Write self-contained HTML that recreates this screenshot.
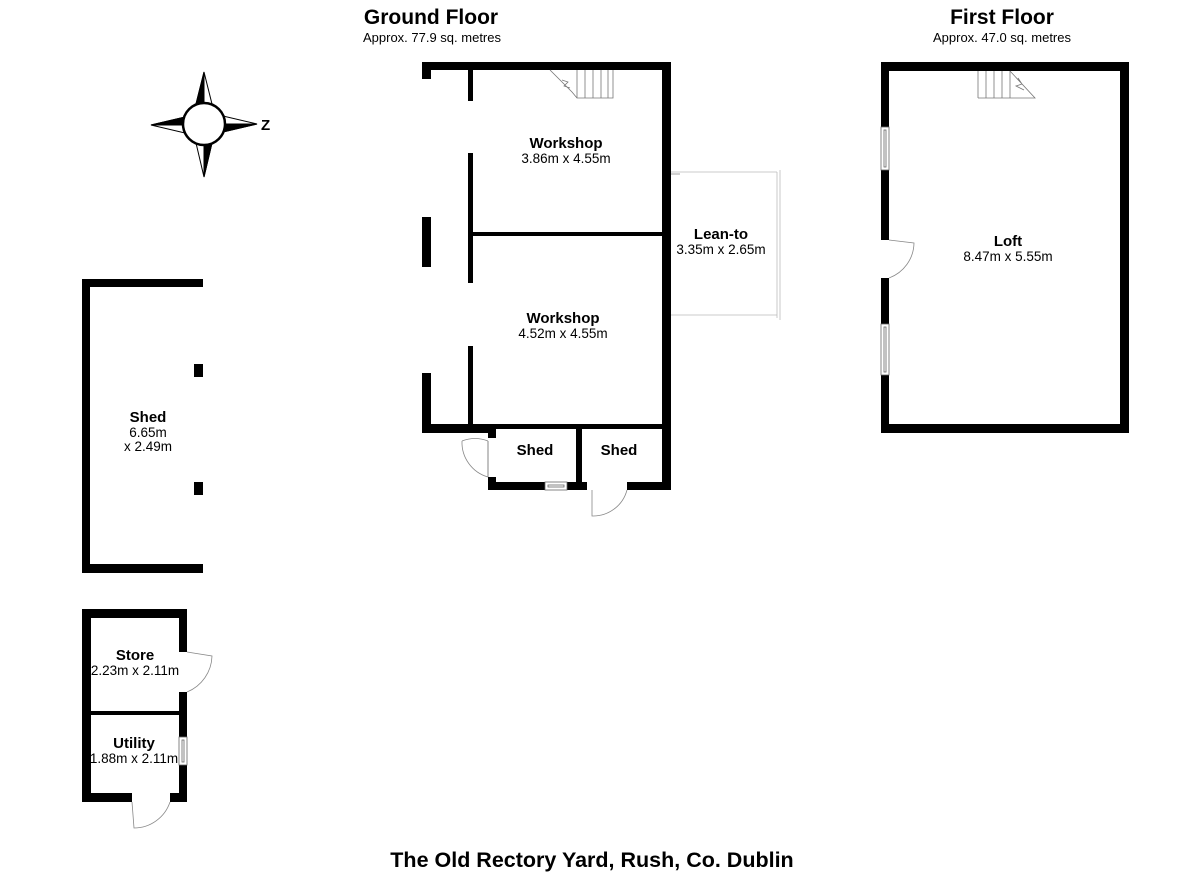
<!DOCTYPE html>
<html><head><meta charset="utf-8"><style>
html,body{margin:0;padding:0;background:#fff;}
svg{display:block;font-family:"Liberation Sans",Arial,sans-serif;}
.b{font-weight:bold;font-size:15px;}
.s{font-size:13.5px;}
</style></head><body>
<svg width="1200" height="873" viewBox="0 0 1200 873" xmlns="http://www.w3.org/2000/svg">
<rect width="1200" height="873" fill="#fff"/>
<!-- Titles -->
<text x="431" y="24" text-anchor="middle" font-weight="bold" font-size="21">Ground Floor</text>
<text x="432" y="42" text-anchor="middle" font-size="13">Approx. 77.9 sq. metres</text>
<text x="1002" y="24" text-anchor="middle" font-weight="bold" font-size="21">First Floor</text>
<text x="1002" y="42" text-anchor="middle" font-size="13">Approx. 47.0 sq. metres</text>
<text x="592" y="867" text-anchor="middle" font-weight="bold" font-size="21.5">The Old Rectory Yard, Rush, Co. Dublin</text>

<!-- Compass -->
<g stroke="#000" stroke-width="1">
<polygon points="204,72 196,104 212,104" fill="#fff"/>
<polygon points="204,72 196,104 204,104" fill="#000"/>
<polygon points="204,177 196,143 212,143" fill="#fff"/>
<polygon points="204,177 204,143 212,143" fill="#000"/>
<polygon points="151,125 185,117 185,133" fill="#fff"/>
<polygon points="151,125 185,117 185,125" fill="#000"/>
<polygon points="257,124 223,116 223,132" fill="#fff"/>
<polygon points="257,124 223,124 223,132" fill="#000"/>
<circle cx="204" cy="124" r="21" fill="#fff" stroke-width="2.5"/>
</g>
<text x="261" y="130" font-weight="bold" font-size="15">Z</text>

<g fill="#000">
<!-- Ground floor main -->
<rect x="422" y="62" width="249" height="8"/>
<rect x="422" y="62" width="9" height="17"/>
<rect x="662" y="62" width="9" height="428"/>
<rect x="468" y="70" width="5" height="31"/>
<rect x="468" y="153" width="5" height="130"/>
<rect x="468" y="346" width="5" height="86"/>
<rect x="422" y="217" width="9" height="50"/>
<rect x="422" y="373" width="9" height="60"/>
<rect x="473" y="232" width="189" height="4"/>
<rect x="422" y="424" width="74" height="9"/>
<rect x="496" y="424" width="166" height="5"/>
<rect x="488" y="429" width="8" height="9"/>
<rect x="488" y="477" width="8" height="13"/>
<rect x="488" y="482" width="57" height="8"/>
<rect x="567" y="482" width="20" height="8"/>
<rect x="576" y="429" width="6" height="61"/>
<rect x="627" y="482" width="44" height="8"/>

<!-- Big shed -->
<rect x="82" y="279" width="121" height="8"/>
<rect x="82" y="279" width="8" height="294"/>
<rect x="82" y="564" width="121" height="9"/>
<rect x="194" y="364" width="9" height="13"/>
<rect x="194" y="482" width="9" height="13"/>

<!-- Store / Utility -->
<rect x="82" y="609" width="105" height="9"/>
<rect x="82" y="609" width="9" height="193"/>
<rect x="179" y="609" width="8" height="43"/>
<rect x="179" y="692" width="8" height="45"/>
<rect x="179" y="765" width="8" height="37"/>
<rect x="91" y="711" width="88" height="4"/>
<rect x="82" y="793" width="50" height="9"/>
<rect x="170" y="793" width="17" height="9"/>

<!-- Loft -->
<rect x="881" y="62" width="248" height="9"/>
<rect x="1120" y="62" width="9" height="371"/>
<rect x="881" y="424" width="248" height="9"/>
<rect x="881" y="62" width="8" height="65"/>
<rect x="881" y="170" width="8" height="70"/>
<rect x="881" y="278" width="8" height="46"/>
<rect x="881" y="375" width="8" height="58"/>
</g>

<!-- thin details -->
<g fill="none" stroke="#666" stroke-width="0.8">
<rect x="545" y="482" width="22" height="8" fill="#fff"/>
<rect x="548" y="485" width="16" height="2"/>
<rect x="179" y="737" width="8" height="28" fill="#fff"/>
<rect x="182" y="740" width="2" height="22"/>
<rect x="881" y="127" width="8" height="43" fill="#fff"/>
<rect x="884" y="130" width="2" height="37"/>
<rect x="881" y="324" width="8" height="51" fill="#fff"/>
<rect x="884" y="327" width="2" height="45"/>
<path d="M488 441 L488 477"/>
<path d="M488 441 A36 36 0 0 0 462 441" stroke="#888"/>
<path d="M462 441 A36 36 0 0 0 488 477" stroke="#888"/>
<path d="M592 490 L592 516 A35 35 0 0 0 627 490" stroke="#888"/>
<path d="M187 652 L212 656 A40 40 0 0 1 187 692" stroke="#888"/>
<path d="M132 802 L134 828 A38 38 0 0 0 170 802" stroke="#888"/>
<path d="M889 240 L914 243 A38 38 0 0 1 889 278" stroke="#888"/>
<path d="M671 172 L777 172 M671 315 L777 315 M777 172 L777 318 M780 170 L780 320" stroke="#bbb"/>
<path d="M671 174 L680 174" stroke="#888"/>
<path d="M550 70 L572 92 L577 98 L613 98 L613 70 M577 70 L577 98 M585 70 L585 98 M593 70 L593 98 M601 70 L601 98 M608 70 L608 98 M562 80 L568 82 L564 86 L570 88" stroke="#777"/>
<path d="M978 98 L1035 98 L1010 71 M978 71 L978 98 M986 71 L986 98 M994 71 L994 98 M1002 71 L1002 98 M1010 71 L1010 98 M1018 78 L1022 84 L1016 86 L1024 90" stroke="#777"/>
</g>

<!-- Labels -->
<text x="566" y="148" text-anchor="middle" class="b">Workshop</text>
<text x="566" y="163" text-anchor="middle" class="s">3.86m x 4.55m</text>
<text x="721" y="239" text-anchor="middle" class="b">Lean-to</text>
<text x="721" y="254" text-anchor="middle" class="s">3.35m x 2.65m</text>
<text x="563" y="323" text-anchor="middle" class="b">Workshop</text>
<text x="563" y="338" text-anchor="middle" class="s">4.52m x 4.55m</text>
<text x="535" y="455" text-anchor="middle" class="b">Shed</text>
<text x="619" y="455" text-anchor="middle" class="b">Shed</text>
<text x="148" y="422" text-anchor="middle" class="b">Shed</text>
<text x="148" y="437" text-anchor="middle" class="s">6.65m</text>
<text x="148" y="451" text-anchor="middle" class="s">x 2.49m</text>
<text x="135" y="660" text-anchor="middle" class="b">Store</text>
<text x="135" y="675" text-anchor="middle" class="s">2.23m x 2.11m</text>
<text x="134" y="748" text-anchor="middle" class="b">Utility</text>
<text x="134" y="763" text-anchor="middle" class="s">1.88m x 2.11m</text>
<text x="1008" y="246" text-anchor="middle" class="b">Loft</text>
<text x="1008" y="261" text-anchor="middle" class="s">8.47m x 5.55m</text>
</svg>
</body></html>
